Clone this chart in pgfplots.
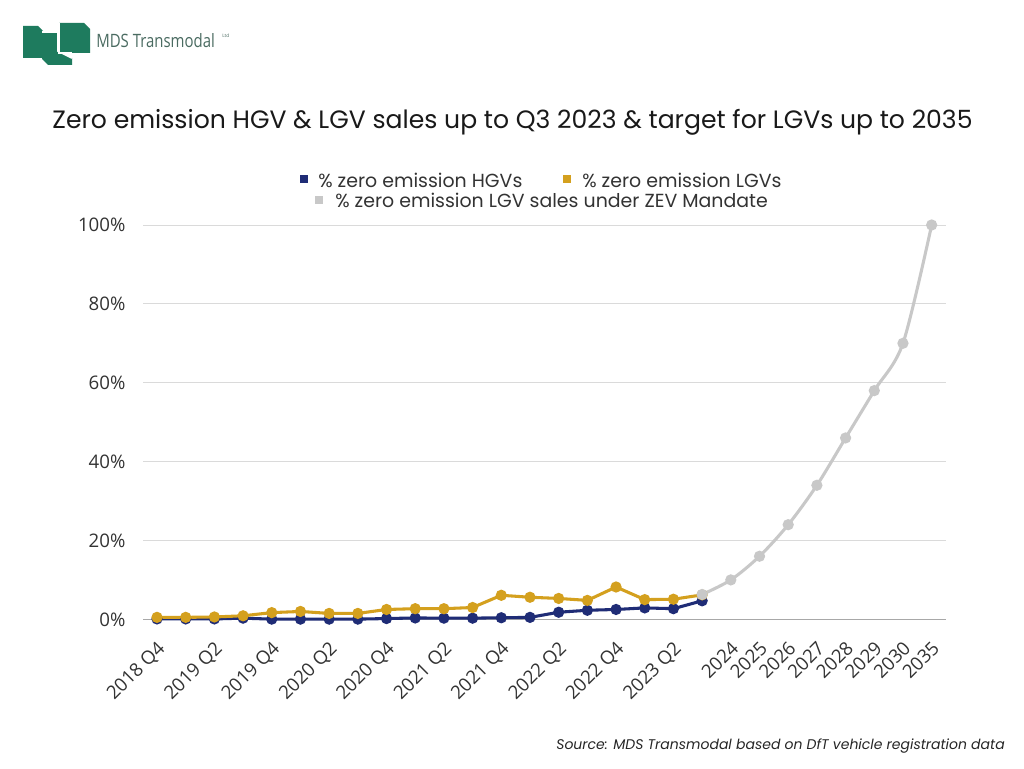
\documentclass[border=0pt]{standalone}
\usepackage{pgfplots}
\pgfplotsset{compat=1.18}
\usepackage{fontspec}
\setmainfont{Open Sans}
\newfontfamily\popp{Poppins}
\newfontfamily\opens{Open Sans}
\definecolor{hgv}{HTML}{1F2C76}
\definecolor{lgv}{HTML}{D4A01E}
\definecolor{zev}{HTML}{C8C8C8}
\definecolor{gridgray}{HTML}{DADADA}
\definecolor{axisgray}{HTML}{A8A8A8}
\definecolor{ticktext}{HTML}{333333}
\definecolor{logo}{HTML}{1E7B5E}
\definecolor{logotext}{HTML}{4A6B61}

\pgfplotstableread{
x hgv lgv
0 0.1 0.5
1 0.1 0.5
2 0.1 0.6
3 0.3 0.9
4 0.05 1.7
5 0.05 2.0
6 0.05 1.5
7 0.05 1.5
8 0.2 2.5
9 0.35 2.7
10 0.3 2.7
11 0.3 3.0
12 0.4 6.1
13 0.5 5.6
14 1.8 5.3
15 2.3 4.8
16 2.5 8.2
17 2.9 5.0
18 2.7 5.1
19 4.7 6.2
}\hgvlgv

\pgfplotstableread{
x zev
19 6.3
20 10
21 16
22 24
23 34
24 46
25 58
26 70
27 100
}\zevtab

\begin{document}
\begin{tikzpicture}
\fill[white] (0,0) rectangle (768pt,576pt);
\useasboundingbox (0,0) rectangle (768pt,576pt);
\begin{axis}[
  at={(107.25pt,111.5pt)}, anchor=south west,
  scale only axis, width=602.25pt, height=295.75pt,
  xmin=-0.488, xmax=27.5, ymin=0, ymax=100,
  clip=false,
  axis x line*=bottom, axis y line*=left,
  y axis line style={draw=none},
  x axis line style={draw=axisgray, line width=0.9pt},
  tick style={draw=none},
  ymajorgrids, grid style={gridgray, line width=0.7pt},
  ytick={0,20,40,60,80,100},
  yticklabels={0\%,20\%,40\%,60\%,80\%,100\%},
  xtick={0,2,4,6,8,10,12,14,16,18,20,21,22,23,24,25,26,27},
  xticklabels={2018 Q4,2019 Q2,2019 Q4,2020 Q2,2020 Q4,2021 Q2,2021 Q4,2022 Q2,2022 Q4,2023 Q2,2024,2025,2026,2027,2028,2029,2030,2035},
  ticklabel style={font=\fontsize{14}{16}\selectfont, text=ticktext},
  yticklabel style={anchor=east, inner sep=0pt, xshift=-13pt},
  xticklabel style={xshift=6.75pt, yshift=-22.5pt, rotate=45, anchor=base east, inner sep=0pt},
]
\addplot[hgv, line width=2.3pt, mark=*, mark size=3pt] table[x=x,y=hgv] {\hgvlgv};
\addplot[lgv, line width=2.3pt, mark=*, mark size=3pt] table[x=x,y=lgv] {\hgvlgv};
\addplot[zev, line width=2.3pt, smooth, tension=0.5, mark=*, mark size=3pt] table[x=x,y=zev] {\zevtab};
\end{axis}

\begin{scope}[x=0.75pt,y=-0.75pt,yshift=576pt]
  % logo
  \fill[logo] (23,26) -- (38,26) -- (43,31) -- (43,58) -- (23,58) -- cycle;
  \fill[logo] (42,32) -- (58,32) -- (58,51) -- (72,58) -- (72,65) -- (48,65) -- (42,59) -- cycle;
  \draw[white, line width=1.5pt] (42,32) -- (58,32) -- (58,51) -- (72,58);
  \fill[logo] (59,23) -- (84,23) -- (90,29) -- (90,53) -- (59,53) -- cycle;
  \draw[white, line width=1.2pt] (59,23) -- (59,53) -- (72,53);
  \node[anchor=west, inner sep=0, text=logotext] at (96,41) {\resizebox{89pt}{10.5pt}{\opens MDS Transmodal}};
  \node[anchor=west, inner sep=0, text=logotext] at (222,36) {\fontsize{3.5}{4}\selectfont\opens Ltd};
  % title
  \node[inner sep=0, text=black!90] at (512.5,122) {\resizebox{690pt}{!}{\popp Zero emission HGV \& LGV sales up to Q3 2023 \& target for LGVs up to 2035}};
  % legend
  \fill[hgv] (300,175) rectangle (308,183);
  \node[anchor=west, inner sep=0, text=ticktext] at (318,180) {\popp\fontsize{14.2}{16}\selectfont \% zero emission HGVs};
  \fill[lgv] (563,175) rectangle (571,183);
  \node[anchor=west, inner sep=0, text=ticktext] at (582,180) {\popp\fontsize{14.2}{16}\selectfont \% zero emission LGVs};
  \fill[zev] (315,196) rectangle (323,204);
  \node[anchor=west, inner sep=0, text=ticktext] at (335,200) {\popp\fontsize{14.2}{16}\selectfont \% zero emission LGV sales under ZEV Mandate};
  % source
  \node[anchor=east, inner sep=0, text=black!85] at (1005,746) {\popp\itshape\fontsize{10.5}{12}\selectfont Source: MDS Transmodal based on DfT vehicle registration data};
\end{scope}
\end{tikzpicture}
\end{document}
